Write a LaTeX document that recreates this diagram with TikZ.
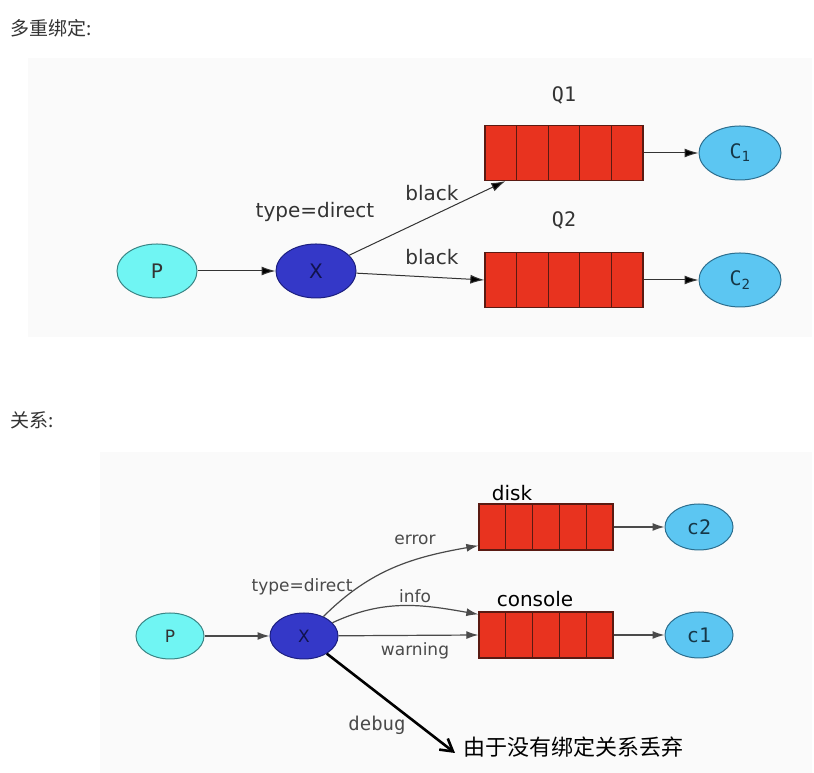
\documentclass[tikz,border=0pt]{standalone}
\usepackage{fontspec}
\setmainfont{DejaVu Sans}
\setmonofont{DejaVu Sans Mono}
\newfontfamily\cjk{Noto Sans CJK SC}
\usetikzlibrary{arrows.meta,calc,positioning,shapes.geometric}

\definecolor{pfill}{HTML}{70F5F3}
\definecolor{pline}{HTML}{3A8585}
\definecolor{xfill}{HTML}{3438C8}
\definecolor{xline}{HTML}{1C1F80}
\definecolor{qfill}{HTML}{E8331F}
\definecolor{qline}{HTML}{5A1A12}
\definecolor{cfill}{HTML}{5CC6F2}
\definecolor{cline}{HTML}{2C6E8E}
\definecolor{panel}{HTML}{FAFAFA}
\definecolor{txt}{HTML}{333333}
\definecolor{soft}{HTML}{4A4A4A}

\begin{document}
\begin{tikzpicture}[x=1pt,y=1pt,>={Latex[length=14pt,width=9pt]},line width=1pt,
    font=\fontsize{20}{24}\selectfont]
		\tikzstyle{prod}=[ellipse,draw=pline,fill=pfill,text=black!80,minimum width=80pt,minimum height=54pt,inner sep=0pt]
		\tikzstyle{exch}=[ellipse,draw=xline,fill=xfill,text=xline!60!black,minimum width=80pt,minimum height=54pt,inner sep=0pt]
		\tikzstyle{cons}=[ellipse,draw=cline,fill=cfill,text=cline!50!black,minimum width=82pt,minimum height=54pt,inner sep=0pt,font=\ttfamily\fontsize{20}{24}\selectfont]
		\tikzstyle{queue}=[rectangle,draw=qline,line width=1.3pt,fill=qfill,minimum width=158pt,minimum height=55pt,inner sep=0pt,
		    path picture={\foreach \k in {1,...,4}
		      \draw[draw=qline,line width=1.1pt] ($(path picture bounding box.north west)!\k/5!(path picture bounding box.north east)$)
		        -- ($(path picture bounding box.south west)!\k/5!(path picture bounding box.south east)$);}]
		\tikzstyle{lbl}=[text=txt,inner sep=1pt]
		\tikzstyle{small}=[minimum width=68pt,minimum height=46pt,font=\fontsize{17}{20}\selectfont]
		\tikzstyle{link}=[-{Latex[length=12pt,width=8pt]},draw=soft,line width=1.2pt]

		\useasboundingbox (0,0) rectangle (814,773);
		\fill[white] (0,0) rectangle (814,773);
		\fill[panel] (28,715) rectangle (812,436);
		\fill[panel] (100,321) rectangle (812,0);

		% multiple bindings
		\node[anchor=west,inner sep=0pt,text=txt] (title1) at (10,745) {\cjk\fontsize{19}{22}\selectfont 多重绑定:};

		\node[prod] (P1) at (157,502) {P};
		\node[exch] (X1) [right of=P1,node distance=159pt] {X};
		\node[queue] (Q2) at (564,493) {};
		\node[queue] (Q1) [above of=Q2,node distance=127pt] {};
		\node[cons] (C2) [right of=Q2,node distance=176pt] {C\textsubscript{2}};
		\node[cons] (C1) [right of=Q1,node distance=176pt] {C\textsubscript{1}};

		\node[lbl] (type1) at (315,561) {type=direct};
		\node[lbl,font=\ttfamily\fontsize{20}{24}\selectfont] (nameQ1) at (564,678) {Q1};
		\node[lbl,font=\ttfamily\fontsize{20}{24}\selectfont] (nameQ2) at (564,553) {Q2};
		\node[lbl] (key1) at (432,580) {black};
		\node[lbl] (key2) at (432,516) {black};

		\path[draw=txt] (P1) edge[->] (X1);
		\path[draw=txt] (X1) edge[->] ([xshift=21pt]Q1.south west);
		\path[draw=txt] (X1) edge[->] (Q2.west);
		\path[draw=txt] (Q1) edge[->] (C1);
		\path[draw=txt] (Q2) edge[->] (C2);

		% relations
		\node[anchor=west,inner sep=0pt,text=txt] (title2) at (10,353) {\cjk\fontsize{19}{22}\selectfont 关系:};

		\node[prod,small] (P2) at (170,137) {P};
		\node[exch,small] (X2) [right of=P2,node distance=134pt] {X};
		\node[queue,minimum width=134pt,minimum height=46pt] (console) at (546,138) {};
		\node[queue,minimum width=134pt,minimum height=46pt] (disk) [above of=console,node distance=108pt] {};
		\node[cons,small,font=\ttfamily\fontsize{20}{24}\selectfont] (C1b) [right of=console,node distance=153pt] {c1};
		\node[cons,small,font=\ttfamily\fontsize{20}{24}\selectfont] (C2b) [right of=disk,node distance=153pt] {c2};
		\coordinate (drop) at (455,20);

		\node[lbl,text=soft,font=\fontsize{17}{20}\selectfont] (type2) at (302,186) {type=direct};
		\node[lbl,text=black] (nameDisk) at (512,280) {disk};
		\node[lbl,text=black] (nameConsole) at (535,174) {console};
		\node[lbl,text=soft,font=\fontsize{17}{20}\selectfont] (keyError) at (415,233) {error};
		\node[lbl,text=soft,font=\fontsize{17}{20}\selectfont] (keyInfo) at (415,177) {info};
		\node[lbl,text=soft,font=\fontsize{17}{20}\selectfont] (keyWarn) at (415,122) {warning};
		\node[lbl,text=soft,font=\ttfamily\fontsize{19}{22}\selectfont] (keyDebug) at (377,48) {debug};
		\node[anchor=west,inner sep=0pt,text=black] (dropText) at (463,26) {\cjk\fontsize{22}{26}\selectfont 由于没有绑定关系丢弃};

		\draw[link] (P2) -- (X2);
		\draw[link] (X2) to[out=45,in=190] ([yshift=5pt]disk.south west);
		\draw[link] (X2) to[out=25,in=170] ([yshift=-3pt]console.north west);
		\draw[link] (X2) -- (console.west);
		\draw[-{Straight Barb[length=12pt,width=14pt]},line width=2.6pt] (X2) -- (drop);
		\draw[link] (disk) -- (C2b);
		\draw[link] (console) -- (C1b);
	\end{tikzpicture}
\end{document}
